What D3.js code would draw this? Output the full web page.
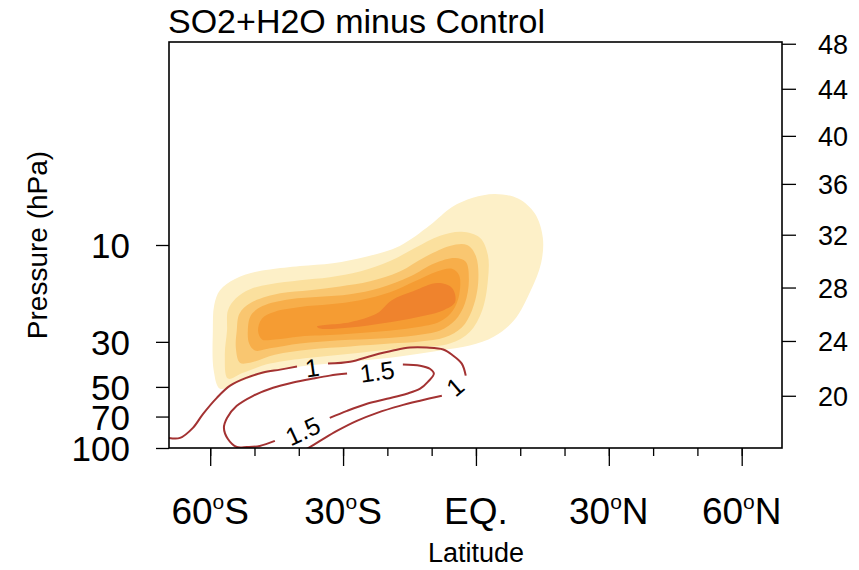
<!DOCTYPE html>
<html><head><meta charset="utf-8">
<script src="https://cdn.jsdelivr.net/npm/d3@7"></script>
<style>
body{margin:0;background:#fff}
text{font-family:"Liberation Sans",Arial,Helvetica,sans-serif;fill:#000}
</style>
</head><body>
<svg id="chart" width="859" height="570"></svg>
<script>
// ---------------- data ----------------
const titleText = "SO2+H2O minus Control";
const latMajor = [-60, -30, 0, 30, 60];
const latMajorLabels = [["60", "S"], ["30", "S"], ["EQ.", ""], ["30", "N"], ["60", "N"]];
const latMinor = [-60, -50, -40, -30, -20, -10, 0, 10, 20, 30, 40, 50, 60];
const presTicks = [10, 30, 50, 70, 100];
const heightKm = [20, 24, 28, 32, 36, 40, 44, 48];
const heightP  = [55.3, 29.7, 16.2, 8.9, 5.0, 2.9, 1.7, 1.02];

const shadeColors = ["#fdf0c8", "#fbe09e", "#f9c670", "#f7ae4a", "#f59c33", "#ef832d"];

// shaded levels: outlines [lat, hPa]
const shade1 = [[-59.4,26.4],[-59.1,19.8],[-57.8,16.7],[-54.4,14.7],[-49.9,13.6],[-46.5,13.2],[-39.7,12.7],[-32.3,12.3],[-24.6,11.4],[-17.2,10.1],[-10.4,8.0],[-5.4,6.5],[-0.7,5.85],[4.3,5.6],[9.5,5.9],[13.3,7.0],[15.1,9.2],[14.7,12.3],[12.4,16.7],[8.6,23.5],[4.1,28.2],[-1.4,31.3],[-8.1,33.1],[-17.2,35.4],[-28.4,37.6],[-39.7,39.7],[-48.8,43.5],[-54.4,48.2],[-57.8,51.0],[-59.2,41.6]];
const shade2 = [[-56.2,26.4],[-56.0,21.0],[-54.2,18.3],[-51.0,16.5],[-46.5,15.6],[-39.7,14.9],[-33.0,14.4],[-26.2,13.5],[-19.4,12.0],[-13.8,10.35],[-8.1,9.0],[-3.2,8.6],[0.9,9.2],[2.7,11.2],[2.7,14.9],[1.4,21.0],[-1.4,26.8],[-5.9,30.6],[-12.6,32.0],[-19.4,32.7],[-28.4,34.3],[-37.5,35.9],[-46.5,38.4],[-52.6,42.6],[-56.0,45.5],[-56.7,35.0]];
const shade3 = [[-54.0,26.4],[-53.4,21.8],[-50.9,19.3],[-44.2,17.3],[-37.5,16.7],[-30.7,16.0],[-23.9,15.1],[-17.2,13.5],[-11.5,11.45],[-5.9,10.1],[-2.0,10.0],[0.0,11.35],[0.5,15.4],[-0.9,21.0],[-3.2,25.5],[-7.0,28.5],[-12.6,29.9],[-19.4,30.6],[-28.4,31.6],[-37.5,32.7],[-45.4,34.7],[-51.0,38.0],[-53.3,38.0],[-54.2,32.3]];
const shade4 = [[-51.5,26.4],[-50.8,22.2],[-48.2,20.0],[-42.0,18.5],[-35.2,18.0],[-28.4,17.5],[-21.7,16.3],[-14.9,14.3],[-9.3,12.3],[-4.7,11.6],[-2.3,12.1],[-1.6,14.9],[-2.5,19.4],[-4.7,23.5],[-8.1,26.4],[-13.8,27.9],[-21.7,28.9],[-30.7,29.5],[-39.7,30.6],[-46.5,32.3],[-49.9,33.1],[-51.2,30.6]];
const shade5 = [[-49.2,26.4],[-48.3,23.0],[-45.4,21.3],[-39.7,20.2],[-33.0,19.6],[-26.2,18.7],[-19.4,17.1],[-13.8,15.1],[-8.8,13.5],[-5.4,13.1],[-3.8,14.1],[-3.8,17.7],[-5.2,21.0],[-8.1,23.8],[-13.8,25.5],[-21.7,26.7],[-30.7,27.6],[-39.7,28.2],[-45.4,29.2],[-48.3,29.2]];
const shade6 = [[-35.9,25.2],[-28.4,24.0],[-22.3,21.7],[-19.0,18.7],[-14.2,16.9],[-8.6,15.4],[-5.4,16.3],[-4.7,19.1],[-7.4,21.0],[-13.3,22.7],[-21.0,24.3],[-28.4,25.5],[-35.2,25.8]];
const shadeLevels = [shade1, shade2, shade3, shade4, shade5, shade6];

// line contours (segments broken at the labels)
const contour1 = [
  [[-69.3,89.2],[-66.8,89.2],[-63.9,79.6],[-61.6,67.9],[-58.5,56.6],[-55.5,49.3],[-51.7,45.0],[-48.1,42.5],[-44.2,41.1],[-40.4,39.7]],
  [[-33.4,38.4],[-28.4,37.6],[-23.3,35.0],[-18.7,33.1],[-14.9,32.0],[-11.1,32.0],[-7.4,32.7],[-5.2,35.0],[-3.2,38.4],[-2.3,44.0]],
  [[-7.7,55.3],[-12.6,58.5],[-17.2,62.0],[-22.3,67.1],[-26.9,73.5],[-31.4,82.4],[-35.2,92.3],[-38.6,102.3]]
];
const contour15 = [
  [[-45.4,92.3],[-48.8,97.7],[-51.7,98.9],[-54.0,98.9],[-56.0,90.3],[-56.9,79.6],[-56.2,71.1],[-54.0,62.0],[-50.3,55.3],[-45.8,50.5],[-41.3,47.6],[-36.8,45.5],[-33.0,44.0],[-29.1,43.0]],
  [[-16.5,38.8],[-12.6,39.3],[-10.4,40.7],[-9.5,43.0],[-10.8,47.1],[-12.6,51.0],[-15.6,54.0],[-20.1,57.2],[-24.6,60.5],[-29.1,65.6],[-33.0,71.1]]
];
const contourLabelText = ["1", "1.5", "1", "1.5"];
const contourLabelLat  = [-37.0, -22.3, -4.7, -39.1];
const contourLabelP    = [40.2, 42.0, 49.9, 82.4];
const contourLabelRot  = [-8, -8, -40, -25];

// ---------------- drawing ----------------
const svg = d3.select("#chart");
const x = d3.scaleLinear().domain([-69.3, 69.1]).range([169, 782]);
const y = d3.scaleLog().domain([1, 100]).range([42, 448]);
const [x0, x1] = x.range(), [y0, y1] = y.range();

svg.append("defs").append("clipPath").attr("id", "clip")
  .append("rect").attr("x", x0).attr("y", y0).attr("width", x1 - x0).attr("height", y1 - y0);

const plot = svg.append("g").attr("clip-path", "url(#clip)");
const area = d3.line().x(d => x(d[0])).y(d => y(d[1])).curve(d3.curveCatmullRomClosed.alpha(0.5));
shadeLevels.forEach((poly, i) => {
  plot.append("path").attr("d", area(poly)).attr("fill", shadeColors[i]).attr("stroke", "none");
});

const line = d3.line().x(d => x(d[0])).y(d => y(d[1])).curve(d3.curveCatmullRom.alpha(0.5));
[...contour1, ...contour15].forEach(seg => {
  plot.append("path").attr("d", line(seg)).attr("fill", "none")
    .attr("stroke", "#a33232").attr("stroke-width", 2);
});
contourLabelText.forEach((t, i) => {
  const cx = x(contourLabelLat[i]), cy = y(contourLabelP[i]);
  svg.append("text").attr("x", cx).attr("y", cy)
    .attr("transform", `rotate(${contourLabelRot[i]},${cx},${cy})`)
    .attr("text-anchor", "middle").attr("dy", "0.36em")
    .style("font-size", "25px").text(t);
});

// frame
svg.append("rect").attr("x", x0).attr("y", y0).attr("width", x1 - x0).attr("height", y1 - y0)
  .attr("fill", "none").attr("stroke", "#000").attr("stroke-width", 1.6);

// left axis
const gl = svg.append("g").attr("transform", `translate(${x0},0)`)
  .call(d3.axisLeft(y).tickValues(presTicks).tickFormat(d3.format("d")).tickSize(13).tickSizeOuter(0).tickPadding(26));
gl.select(".domain").remove();
gl.selectAll("line").attr("stroke", "#000").attr("stroke-width", 1.3);
gl.selectAll("text").style("font-size", "35px").attr("dy", "0.36em");

// right axis
const gr = svg.append("g").attr("transform", `translate(${x1},0)`)
  .call(d3.axisRight(y).tickValues(heightP).tickFormat((d, i) => heightKm[i]).tickSize(14).tickSizeOuter(0).tickPadding(22));
gr.select(".domain").remove();
gr.selectAll("line").attr("stroke", "#000").attr("stroke-width", 1.3);
gr.selectAll("text").style("font-size", "27px").attr("dy", "0.36em");

// bottom axis: minor then major
const gbm = svg.append("g").attr("transform", `translate(0,${y1})`)
  .call(d3.axisBottom(x).tickValues(latMinor).tickFormat("").tickSize(8).tickSizeOuter(0));
gbm.select(".domain").remove();
gbm.selectAll("line").attr("stroke", "#000").attr("stroke-width", 1.3);
const gb = svg.append("g").attr("transform", `translate(0,${y1})`)
  .call(d3.axisBottom(x).tickValues(latMajor).tickFormat("").tickSize(18).tickSizeOuter(0));
gb.select(".domain").remove();
gb.selectAll("line").attr("stroke", "#000").attr("stroke-width", 1.3);

latMajor.forEach((v, i) => {
  const [num, hemi] = latMajorLabels[i];
  const t = svg.append("text").attr("x", x(v)).attr("y", 524).attr("text-anchor", "middle")
    .style("font-size", "37px");
  t.append("tspan").text(num);
  if (hemi) {
    t.append("tspan").attr("dy", -15).style("font-size", "21px").text("o");
    t.append("tspan").attr("dy", 15).text(hemi);
  }
});

// titles
svg.append("text").attr("x", 168).attr("y", 33).style("font-size", "34px").text(titleText);
svg.append("text").attr("x", x(0)).attr("y", 562).attr("text-anchor", "middle")
  .style("font-size", "27px").text("Latitude");
svg.append("text").attr("transform", `translate(47,${y(10)}) rotate(-90)`)
  .attr("text-anchor", "middle").style("font-size", "28px").text("Pressure (hPa)");
</script>
</body></html>
